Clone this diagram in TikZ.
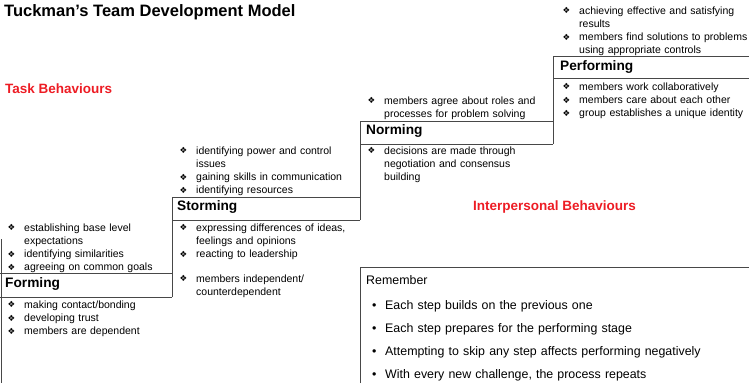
\documentclass[tikz,border=0pt]{standalone}
\usepackage{fontspec}
\setmainfont{Liberation Sans}
\newfontfamily\symfont{DejaVu Sans}
\definecolor{tred}{RGB}{237,28,36}
\definecolor{lgray}{RGB}{72,72,72}
\newcommand\dia{\raisebox{0.3pt}{\symfont\fontsize{8.5}{8.5}\selectfont\char"2756}}
\newcommand\li[1]{\noindent\hangindent=16.5pt\hangafter=1\makebox[16.5pt][l]{\dia}#1\par}
\newcommand\ri[1]{\noindent\hangindent=13pt\hangafter=1\makebox[13pt][l]{\textbullet}#1\par}
\tikzset{
  lst/.style={anchor=base west, inner sep=0pt, text width=230pt, align=left,
    font=\fontsize{10.5}{13.3}\selectfont},
  rem/.style={anchor=base west, inner sep=0pt, text width=380pt, align=left,
    font=\fontsize{12.4}{23}\selectfont},
  hdr/.style={anchor=base west, inner sep=0pt, font=\bfseries\fontsize{13.7}{16}\selectfont},
  beh/.style={anchor=base west, inner sep=0pt, text=tred, font=\bfseries\fontsize{13.5}{16}\selectfont},
  stepline/.style={draw=lgray, line width=1pt}
}
\begin{document}
\begin{tikzpicture}[x=1pt,y=-1pt]
\useasboundingbox (0,0) rectangle (749,383);
% title and behaviour labels
\node[anchor=base west, inner sep=0pt, font=\bfseries\fontsize{16.5}{18}\selectfont] (title) at (4,16) {Tuckman’s Team Development Model};
\node[beh] (task) at (5,93) {Task Behaviours};
\node[beh] (inter) at (473,210) {Interpersonal Behaviours};
% step lines
\draw[stepline] (0,273) -- (172,273) (0,297) -- (172,297);
\draw[stepline] (1,239) -- (1,383);
\draw[stepline] (172,297) -- (172,197) -- (360,197) (172,220) -- (360,220);
\draw[stepline] (360,220) -- (360,121) -- (553,121) (360,144) -- (553,144);
\draw[stepline] (553,144) -- (553,56) -- (749,56) (553,78) -- (749,78);
\draw[stepline] (360,383) -- (360,267) -- (749,267);
% headers
\node[hdr] (forming) at (5,287) {Forming};
\node[hdr] (storming) at (177,210) {Storming};
\node[hdr] (norming) at (366,134) {Norming};
\node[hdr] (performing) at (560,70) {Performing};
% Forming lists
\node[lst] (fabove) at (7.5,231) {\li{establishing base level\newline expectations}\li{identifying similarities}\li{agreeing on common goals}};
\node[lst] (fbelow) at (7.5,308) {\li{making contact/bonding}\li{developing trust}\li{members are dependent}};
% Storming lists
\node[lst] (sabove) at (179.5,154) {\li{identifying power and control\newline issues}\li{gaining skills in communication}\li{identifying resources}};
\node[lst] (sbelow) at (179.5,231) {\li{expressing differences of ideas,\newline feelings and opinions}\li{reacting to leadership}};
\node[lst] (sbelow2) at (179.5,282) {\li{members independent/\newline counterdependent}};
% Norming lists
\node[lst] (nabove) at (367.5,104) {\li{members agree about roles and\newline processes for problem solving}};
\node[lst] (nbelow) at (367.5,154) {\li{decisions are made through\newline negotiation and consensus\newline building}};
% Performing lists
\node[lst] (pabove) at (562.5,14) {\li{achieving effective and satisfying\newline results}\li{members find solutions to problems\newline using appropriate controls}};
\node[lst] (pbelow) at (562.5,90) {\li{members work collaboratively}\li{members care about each other}\li{group establishes a unique identity}};
% Remember box
\node[anchor=base west, inner sep=0pt, font=\fontsize{12.4}{14}\selectfont] (remember) at (366,284) {Remember};
\node[rem] (remlist) at (372,309.5) {\ri{Each step builds on the previous one}\ri{Each step prepares for the performing stage}\ri{Attempting to skip any step affects performing negatively}\ri{With every new challenge, the process repeats}};
\end{tikzpicture}
\end{document}
